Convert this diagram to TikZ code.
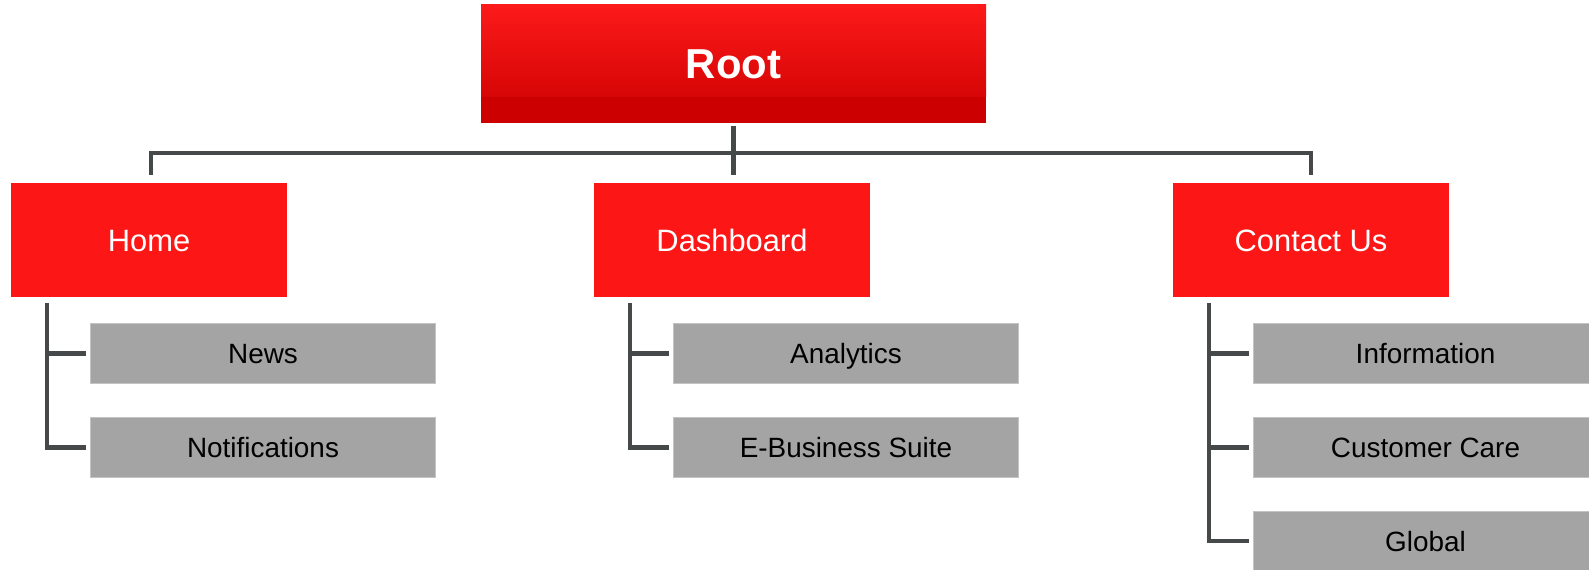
\documentclass[tikz,border=0pt]{standalone}
\usepackage{fontspec}
\setmainfont{Liberation Sans}
\usetikzlibrary{calc}
\definecolor{rtop}{HTML}{FC1A1A}
\definecolor{rbot}{HTML}{CC0000}
\definecolor{redbox}{HTML}{FC1616}
\definecolor{graybox}{HTML}{A4A4A4}
\definecolor{grayedge}{HTML}{C4C4C4}
\definecolor{linecol}{HTML}{454949}
\tikzset{
  boxbase/.style={rectangle, inner sep=0, text depth=0pt},
  rootbox/.style={boxbase, text height=30bp, minimum width=505bp, minimum height=118bp,
    fill=rbot, text=white, font=\fontsize{42}{48}\selectfont\bfseries,
    path picture={\shade[top color=rtop, bottom color=rbot]
      (path picture bounding box.north west) rectangle ([yshift=26bp]path picture bounding box.south east);}},
  topbox/.style={boxbase, text height=22.2bp, minimum width=276bp, minimum height=114bp,
    fill=redbox, text=white, font=\fontsize{31}{36}\selectfont},
  leafbox/.style={boxbase, text height=20bp, minimum width=345bp, minimum height=60bp,
    fill=graybox, draw=grayedge, line width=1bp, text=black, font=\fontsize{28}{33}\selectfont},
  conn/.style={draw=linecol, line width=4.5bp}
}
\begin{document}
\begin{tikzpicture}[x=1bp,y=-1bp]
\useasboundingbox (0,0) rectangle (1589,570);
\clip (0,0) rectangle (1589,570);
\node[rootbox] (root) at (733.5,64) {Root};
\node[topbox] (home) at (149,240) {Home};
\node[topbox] (dash) at (732,240) {Dashboard};
\node[topbox] (contact) at (1311,240) {Contact Us};

\node[leafbox] (news) at (263,353.3) {News};
\node[leafbox] (notif) at (263,447.3) {Notifications};
\node[leafbox] (anal) at (846,353.3) {Analytics};
\node[leafbox] (ebiz) at (846,447.3) {E-Business Suite};
\node[leafbox] (info) at (1425.5,353.5) {Information};
\node[leafbox] (care) at (1425.5,447.3) {Customer Care};
\node[leafbox] (glob) at (1425.5,541) {Global};

% root to level 1
\draw[conn] ($(root.south)+(0,3)$) -- ($(root.south |- dash.north)+(0,-8)$);
\draw[conn] ($(home.north)+(2,-8)$) -- ++(0,-22) -| ($(contact.north)+(0,-8)$);

% Home children
\coordinate (hb) at ($(home.south west)+(36,6)$);
\draw[conn] (hb) |- ($(notif.west)+(-4,0)$);
\draw[conn] ($(news.west)+(-4,0)$) -- (hb |- news.west);

% Dashboard children
\coordinate (db) at ($(dash.south west)+(36,6)$);
\draw[conn] (db) |- ($(ebiz.west)+(-4,0)$);
\draw[conn] ($(anal.west)+(-4,0)$) -- (db |- anal.west);

% Contact children
\coordinate (cb) at ($(contact.south west)+(36,6)$);
\draw[conn] (cb) |- ($(glob.west)+(-4,0)$);
\draw[conn] ($(info.west)+(-4,0)$) -- (cb |- info.west);
\draw[conn] ($(care.west)+(-4,0)$) -- (cb |- care.west);
\end{tikzpicture}
\end{document}
